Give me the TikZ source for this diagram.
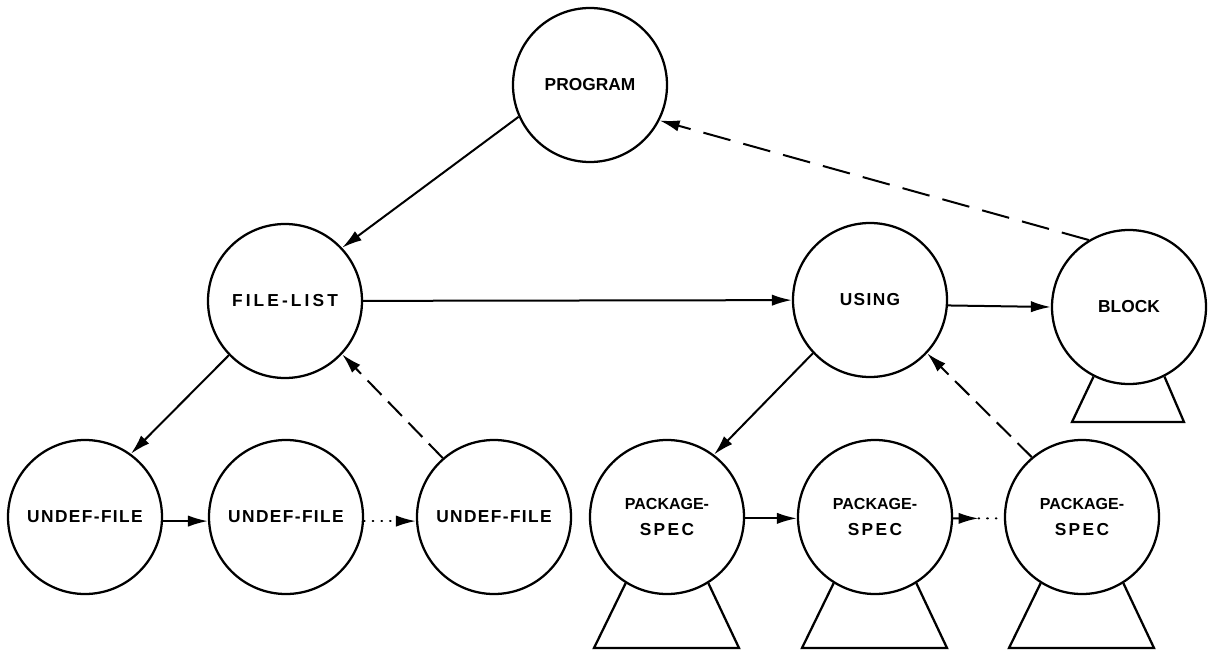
\documentclass[tikz,border=0pt]{standalone}
\usepackage{fontspec}
\setmainfont{Liberation Sans}
\usetikzlibrary{arrows.meta,calc}
\begin{document}
\begin{tikzpicture}[x=0.75pt,y=-0.75pt,
  obj/.style={circle,draw,line width=1.7pt,minimum size=115.5pt,inner sep=0pt,
    align=center,font=\fontsize{13}{19}\selectfont\bfseries},
  link/.style={line width=1.5pt,-{Latex[length=15pt,width=8.5pt]}},
  back/.style={link,dash pattern=on 15pt off 7pt},
  longback/.style={link,dash pattern=on 21pt off 10pt},
  more/.style={line width=1.6pt,line cap=round,dash pattern=on 0.5pt off 6pt},
  stand/.style={line width=1.7pt,line join=miter}
]
\useasboundingbox (0,0) rectangle (1214,653);

% objects
\node[obj] (prog)  at (590,85)  {PROGRAM};
\node[obj] (fl)    at (285,301) {\addfontfeature{LetterSpace=18}FILE-LIST};
\node[obj] (using) at (870,300) {\addfontfeature{LetterSpace=8}USING};
\node[obj] (block) at (1129,307) {BLOCK};

\node[obj] (u1) at (85,517)  {\addfontfeature{LetterSpace=8}UNDEF-FILE};
\node[obj] (u2) at (286,517) {\addfontfeature{LetterSpace=8}UNDEF-FILE};
\node[obj] (u3) at (494,517) {\addfontfeature{LetterSpace=8}UNDEF-FILE};

\node[obj] (p1) at (667,517) {\fontsize{12}{19}\selectfont PACKAGE-\\\addfontfeature{LetterSpace=14}SPEC};
\node[obj] (p2) at (875,517) {\fontsize{12}{19}\selectfont PACKAGE-\\\addfontfeature{LetterSpace=14}SPEC};
\node[obj] (p3) at (1082,517) {\fontsize{12}{19}\selectfont PACKAGE-\\\addfontfeature{LetterSpace=14}SPEC};

% stands under the library units
\foreach \n in {p1,p2,p3}
  \draw[stand] (\n.-122) -- ($(\n)+(-73,131)$) -- ($(\n)+(72,131)$) -- (\n.-58);
\draw[stand] (block.-117) -- ($(block)+(-57,115)$) -- ($(block)+(55,115)$) -- (block.-63);

% tree links
\draw[link] (prog.204.6) -- (fl.43);
\draw[link] (fl) -- (using);
\draw[link] (using.-4) -- (block.west);
\draw[longback] (block.121) -- (prog.-27);

\draw[link] (fl.-136.5) -- (u1.54);
\draw[back] (u3.131) -- (fl.-43.5);
\draw[link] (u1.-3.7) -- (u2.183.7);
\draw[more,-{Latex[length=15pt,width=8.5pt]}] (u2.-3) -- (u3.183);

\draw[link] (using.-137.6) -- (p1.53);
\draw[back] (p3.130) -- (using.-43);
\draw[link] (p1.-1.5) -- (p2.181.5);
\coordinate (tip) at ($(p2.-1.5)!0.5!(p3.181.5)$);
\draw[link] (p2.-1.5) -- (tip);
\draw[more] (tip) -- (p3.181.5);
\end{tikzpicture}
\end{document}
